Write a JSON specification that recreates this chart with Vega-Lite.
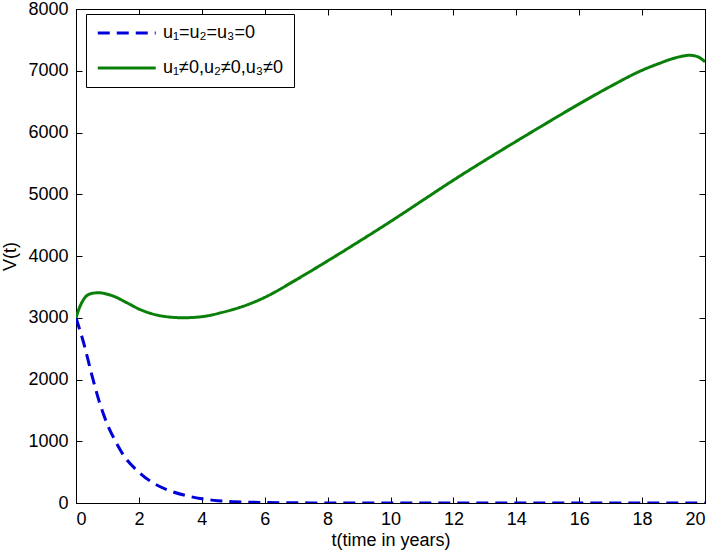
{
  "$schema": "https://vega.github.io/schema/vega-lite/v6.json",
  "width": 629,
  "height": 494,
  "autosize": "none",
  "padding": {"left": 76, "top": 9, "right": 11, "bottom": 51},
  "background": "white",
  "config": {
    "view": {"stroke": "black", "strokeWidth": 1},
    "font": "Liberation Sans",
    "axis": {
      "domainColor": "black",
      "tickColor": "black",
      "labelColor": "black",
      "titleColor": "black",
      "labelFont": "Liberation Sans",
      "titleFont": "Liberation Sans",
      "labelFontSize": 18,
      "titleFontSize": 18,
      "titleFontWeight": "normal",
      "tickSize": -6,
      "grid": false,
      "format": "d"
    },
    "legend": {
      "labelFont": "Liberation Sans",
      "labelFontSize": 18,
      "labelColor": "black"
    }
  },
  "data": {
    "values": [
      {"t": 0, "v": 3000, "s": "u₁=u₂=u₃=0"},
      {"t": 0.25, "v": 2580, "s": "u₁=u₂=u₃=0"},
      {"t": 0.5, "v": 2080, "s": "u₁=u₂=u₃=0"},
      {"t": 0.75, "v": 1625, "s": "u₁=u₂=u₃=0"},
      {"t": 1.0, "v": 1269, "s": "u₁=u₂=u₃=0"},
      {"t": 1.25, "v": 1005, "s": "u₁=u₂=u₃=0"},
      {"t": 1.5, "v": 782, "s": "u₁=u₂=u₃=0"},
      {"t": 2.0, "v": 500, "s": "u₁=u₂=u₃=0"},
      {"t": 2.5, "v": 310, "s": "u₁=u₂=u₃=0"},
      {"t": 3.0, "v": 195, "s": "u₁=u₂=u₃=0"},
      {"t": 3.5, "v": 120, "s": "u₁=u₂=u₃=0"},
      {"t": 4.0, "v": 70, "s": "u₁=u₂=u₃=0"},
      {"t": 4.5, "v": 38, "s": "u₁=u₂=u₃=0"},
      {"t": 5.0, "v": 20, "s": "u₁=u₂=u₃=0"},
      {"t": 6.0, "v": 8, "s": "u₁=u₂=u₃=0"},
      {"t": 7.0, "v": 3, "s": "u₁=u₂=u₃=0"},
      {"t": 8.0, "v": 1, "s": "u₁=u₂=u₃=0"},
      {"t": 10.0, "v": 0, "s": "u₁=u₂=u₃=0"},
      {"t": 15.0, "v": 0, "s": "u₁=u₂=u₃=0"},
      {"t": 20.0, "v": 0, "s": "u₁=u₂=u₃=0"},
      {"t": 0, "v": 3000, "s": "u₁≠0,u₂≠0,u₃≠0"},
      {"t": 0.1, "v": 3150, "s": "u₁≠0,u₂≠0,u₃≠0"},
      {"t": 0.23, "v": 3287, "s": "u₁≠0,u₂≠0,u₃≠0"},
      {"t": 0.44, "v": 3385, "s": "u₁≠0,u₂≠0,u₃≠0"},
      {"t": 0.71, "v": 3405, "s": "u₁≠0,u₂≠0,u₃≠0"},
      {"t": 1.0, "v": 3380, "s": "u₁≠0,u₂≠0,u₃≠0"},
      {"t": 1.19, "v": 3350, "s": "u₁≠0,u₂≠0,u₃≠0"},
      {"t": 1.61, "v": 3245, "s": "u₁≠0,u₂≠0,u₃≠0"},
      {"t": 2.03, "v": 3135, "s": "u₁≠0,u₂≠0,u₃≠0"},
      {"t": 2.56, "v": 3045, "s": "u₁≠0,u₂≠0,u₃≠0"},
      {"t": 3.0, "v": 3010, "s": "u₁≠0,u₂≠0,u₃≠0"},
      {"t": 3.41, "v": 3000, "s": "u₁≠0,u₂≠0,u₃≠0"},
      {"t": 3.8, "v": 3008, "s": "u₁≠0,u₂≠0,u₃≠0"},
      {"t": 4.15, "v": 3028, "s": "u₁≠0,u₂≠0,u₃≠0"},
      {"t": 4.6, "v": 3080, "s": "u₁≠0,u₂≠0,u₃≠0"},
      {"t": 5.0, "v": 3135, "s": "u₁≠0,u₂≠0,u₃≠0"},
      {"t": 5.5, "v": 3220, "s": "u₁≠0,u₂≠0,u₃≠0"},
      {"t": 6.0, "v": 3330, "s": "u₁≠0,u₂≠0,u₃≠0"},
      {"t": 7.0, "v": 3615, "s": "u₁≠0,u₂≠0,u₃≠0"},
      {"t": 8.0, "v": 3920, "s": "u₁≠0,u₂≠0,u₃≠0"},
      {"t": 9.0, "v": 4235, "s": "u₁≠0,u₂≠0,u₃≠0"},
      {"t": 10.0, "v": 4558, "s": "u₁≠0,u₂≠0,u₃≠0"},
      {"t": 11.0, "v": 4893, "s": "u₁≠0,u₂≠0,u₃≠0"},
      {"t": 12.0, "v": 5228, "s": "u₁≠0,u₂≠0,u₃≠0"},
      {"t": 13.0, "v": 5548, "s": "u₁≠0,u₂≠0,u₃≠0"},
      {"t": 14.0, "v": 5858, "s": "u₁≠0,u₂≠0,u₃≠0"},
      {"t": 15.0, "v": 6163, "s": "u₁≠0,u₂≠0,u₃≠0"},
      {"t": 16.0, "v": 6463, "s": "u₁≠0,u₂≠0,u₃≠0"},
      {"t": 17.0, "v": 6748, "s": "u₁≠0,u₂≠0,u₃≠0"},
      {"t": 18.0, "v": 7008, "s": "u₁≠0,u₂≠0,u₃≠0"},
      {"t": 18.5, "v": 7110, "s": "u₁≠0,u₂≠0,u₃≠0"},
      {"t": 19.0, "v": 7200, "s": "u₁≠0,u₂≠0,u₃≠0"},
      {"t": 19.3, "v": 7238, "s": "u₁≠0,u₂≠0,u₃≠0"},
      {"t": 19.5, "v": 7250, "s": "u₁≠0,u₂≠0,u₃≠0"},
      {"t": 19.7, "v": 7238, "s": "u₁≠0,u₂≠0,u₃≠0"},
      {"t": 19.85, "v": 7205, "s": "u₁≠0,u₂≠0,u₃≠0"},
      {"t": 20.0, "v": 7145, "s": "u₁≠0,u₂≠0,u₃≠0"}
    ]
  },
  "layer": [
    {
      "mark": {"type": "line", "strokeWidth": 3, "interpolate": "monotone", "clip": true},
      "encoding": {
        "x": {
          "field": "t", "type": "quantitative",
          "scale": {"domain": [0, 20], "nice": false, "zero": false},
          "axis": {"values": [0,2,4,6,8,10,12,14,16,18,20], "title": "t(time in years)", "labelPadding": 13, "titlePadding": 3, "orient": "bottom"}
        },
        "y": {
          "field": "v", "type": "quantitative",
          "scale": {"domain": [0, 8000], "nice": false},
          "axis": {"values": [0,1000,2000,3000,4000,5000,6000,7000,8000], "title": "V(t)", "labelPadding": 14, "titlePadding": 8, "orient": "left"}
        },
        "color": {
          "field": "s", "type": "nominal",
          "scale": {"domain": ["u₁=u₂=u₃=0", "u₁≠0,u₂≠0,u₃≠0"], "range": ["#0000d8", "#0a800a"]},
          "legend": {
            "title": null,
            "orient": "none",
            "legendX": 10,
            "legendY": 5,
            "symbolType": "M-1,0H7",
            "symbolSize": 210,
            "symbolStrokeWidth": 3,
            "strokeColor": "black",
            "fillColor": "white",
            "padding": 10,
            "rowPadding": 17,
            "labelOffset": 49,
            "cornerRadius": 0
          }
        },
        "strokeDash": {
          "field": "s", "type": "nominal",
          "scale": {"domain": ["u₁=u₂=u₃=0", "u₁≠0,u₂≠0,u₃≠0"], "range": [[12, 7], [1, 0]]},
          "legend": null
        }
      }
    },
    {
      "mark": {"type": "line", "strokeOpacity": 0},
      "encoding": {
        "x": {
          "field": "t", "type": "quantitative",
          "axis": {"values": [0,2,4,6,8,10,12,14,16,18,20], "labels": false, "title": null, "orient": "top"}
        },
        "y": {
          "field": "v", "type": "quantitative",
          "axis": {"values": [0,1000,2000,3000,4000,5000,6000,7000,8000], "labels": false, "title": null, "orient": "right"}
        }
      }
    }
  ],
  "resolve": {"axis": {"x": "independent", "y": "independent"}}
}
